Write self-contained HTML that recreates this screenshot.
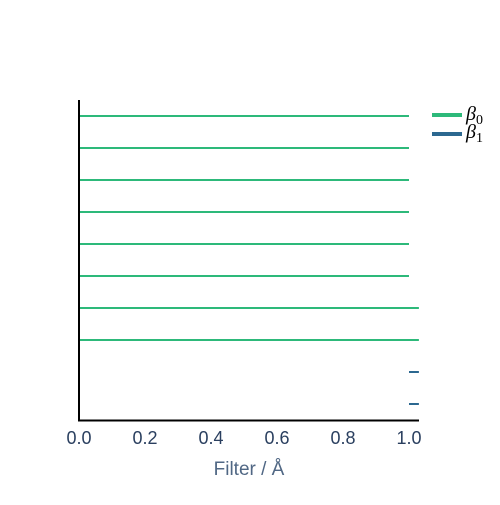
<!DOCTYPE html>
<html><head><meta charset="utf-8"><style>
body{margin:0;background:#fff;font-family:"Liberation Sans",sans-serif}
</style></head><body>
<svg id="chart" width="500" height="500">
<rect width="500" height="500" fill="#fff"/>
<g id="bars"></g>
<line x1="79" y1="100" x2="79" y2="421" stroke="#000" stroke-width="2"/>
<line x1="78" y1="420.5" x2="419" y2="420.5" stroke="#000" stroke-width="2"/>
<g id="ticks" font-size="18" fill="#2a3f5f" text-anchor="middle"></g>
<text x="249" y="475" font-size="19" fill="#506784" text-anchor="middle">Filter / Å</text>
<g>
<line x1="432" y1="115" x2="462" y2="115" stroke="#2db97a" stroke-width="4"/>
<text x="466" y="120" font-family="Liberation Serif,serif" font-style="italic" font-size="20" fill="#000">β<tspan font-style="normal" font-size="14" dy="4">0</tspan></text>
<line x1="432" y1="134" x2="462" y2="134" stroke="#2c6890" stroke-width="4"/>
<text x="466" y="138" font-family="Liberation Serif,serif" font-style="italic" font-size="20" fill="#000">β<tspan font-style="normal" font-size="14" dy="4">1</tspan></text>
</g>
</svg>
<script>
const births=[0,0,0,0,0,0,0,0,1.0,1.0];
const deaths=[1.0,1.0,1.0,1.0,1.0,1.0,1.03,1.03,1.03,1.03];
const dims=[0,0,0,0,0,0,0,0,1,1];
const tickVals=[0,0.2,0.4,0.6,0.8,1.0];
const tickLabels=["0.0","0.2","0.4","0.6","0.8","1.0"];
const ns="http://www.w3.org/2000/svg";
const x=v=>79+v*330;
const y=i=>116+i*32;
const colors=["#2db97a","#2c6890"];
const g=document.getElementById('bars');
births.forEach((b,i)=>{
 const l=document.createElementNS(ns,'line');
 l.setAttribute('x1',x(b));l.setAttribute('x2',x(deaths[i]));
 l.setAttribute('y1',y(i));l.setAttribute('y2',y(i));
 l.setAttribute('stroke',colors[dims[i]]);l.setAttribute('stroke-width',2);
 
 
 g.appendChild(l);
});
const t=document.getElementById('ticks');
tickVals.forEach((v,i)=>{
 const e=document.createElementNS(ns,'text');
 e.setAttribute('x',x(v));e.setAttribute('y',444);e.textContent=tickLabels[i];
 
 
 t.appendChild(e);
});
</script>
</body></html>
